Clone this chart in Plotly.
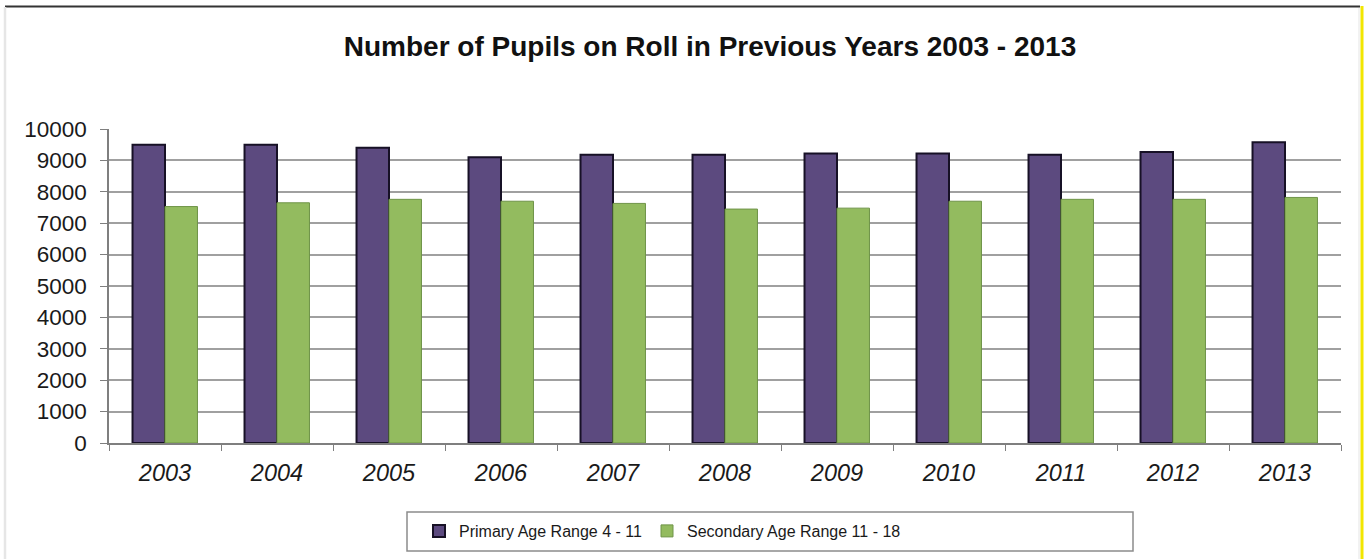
import plotly.graph_objects as go

years = ["2003", "2004", "2005", "2006", "2007", "2008", "2009", "2010", "2011", "2012", "2013"]
primary = [9500, 9500, 9400, 9100, 9180, 9180, 9220, 9220, 9180, 9270, 9580]
secondary = [7530, 7650, 7760, 7700, 7630, 7450, 7480, 7700, 7760, 7760, 7820]
series_names = ["Primary Age Range 4 - 11", "Secondary Age Range 11 - 18"]
title_text = "Number of Pupils on Roll in Previous Years 2003 - 2013"

W, H = 1366, 559
L, R, T, B = 109, 25, 129, 116
PW, PH = W - L - R, H - T - B

def px(x):
    return (x - L) / PW

def py(y):
    return (H - B - y) / PH

FONT = "Liberation Sans, Arial, sans-serif"

fig = go.Figure()
fig.add_trace(go.Bar(
    x=years, y=primary, name=series_names[0],
    marker=dict(color="#5c4a7f", line=dict(color="#171126", width=2)),
))
fig.add_trace(go.Bar(
    x=years, y=secondary, name=series_names[1],
    marker=dict(color="#93bb5f", line=dict(color="#6f9448", width=1)),
))

shapes = [
    # outer frame
    dict(type="line", xref="paper", yref="paper", x0=px(5), x1=px(1360), y0=py(6.5), y1=py(6.5),
         line=dict(color="#333333", width=2)),
    dict(type="line", xref="paper", yref="paper", x0=px(5), x1=px(5), y0=py(7), y1=py(559),
         line=dict(color="#e6e6e6", width=2.5)),
    dict(type="line", xref="paper", yref="paper", x0=px(1362), x1=px(1362), y0=py(6), y1=py(559),
         line=dict(color="#f2e600", width=3)),
    dict(type="line", xref="paper", yref="paper", x0=px(1359), x1=px(1359), y0=py(8), y1=py(559),
         line=dict(color="#eeeeee", width=1.5)),
    # legend box
    dict(type="rect", xref="paper", yref="paper", x0=px(407), x1=px(1133), y0=py(512), y1=py(551),
         line=dict(color="#8c8c8c", width=1.5), fillcolor="rgba(0,0,0,0)"),
]

fig.update_layout(
    width=W, height=H,
    margin=dict(l=L, r=R, t=T, b=B, autoexpand=False),
    paper_bgcolor="white", plot_bgcolor="white",
    font=dict(family=FONT, color="#1a1a1a"),
    title=dict(text="<b>" + title_text + "</b>", x=710 / W, xref="container", xanchor="center",
               y=1 - 46 / H, yref="container", yanchor="middle",
               font=dict(size=28, family=FONT, color="#111111")),
    barmode="group", bargap=0.42, bargroupgap=0.0,
    showlegend=True,
    legend=dict(orientation="h", x=px(419), xanchor="left", y=py(531), yanchor="middle",
                font=dict(size=16, family=FONT, color="#1a1a1a"),
                bgcolor="rgba(0,0,0,0)", borderwidth=0, itemwidth=30, tracegroupgap=0),
    shapes=shapes,
)

fig.update_xaxes(
    type="category", showgrid=False, showline=True, linecolor="#7f7f7f", linewidth=1.5,
    ticks="outside", tickson="boundaries", ticklen=6, tickcolor="#7f7f7f",
    tickfont=dict(size=23.5, family=FONT, color="#1a1a1a"),
    ticklabelstandoff=8, mirror=False,
    tickvals=years, ticktext=["<i>" + y + "</i>" for y in years],
)
fig.update_yaxes(
    range=[0, 10000], dtick=1000, tick0=0, tickformat="d",
    showgrid=True, gridcolor="#a0a0a0", gridwidth=2,
    showline=True, linecolor="#7f7f7f", linewidth=1.5, ticks="outside", ticklen=7,
    tickcolor="#7f7f7f", tickfont=dict(size=22.5, family=FONT, color="#1a1a1a"),
    zeroline=False, ticklabelstandoff=9,
)

fig.write_html("out.html", config={"displayModeBar": False},
               post_script="document.body.style.margin='0';document.body.style.padding='0';")
